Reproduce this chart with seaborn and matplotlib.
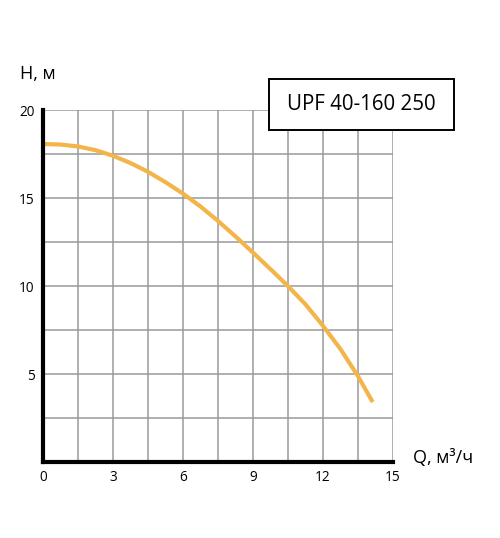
import matplotlib
matplotlib.use("Agg")
import matplotlib.pyplot as plt
from matplotlib.patches import Rectangle
import seaborn as sns
import pandas as pd

# pump curve
flow = [0, 0.75, 1.5, 2.25, 3, 3.75, 4.5, 5.25, 6, 6.75,
        7.5, 8.25, 9, 9.75, 10.5, 11.25, 12, 12.75, 13.5, 14.13]
head = [18.07, 18.04, 17.93, 17.72, 17.4, 16.99, 16.49, 15.9, 15.25, 14.52,
        13.7, 12.82, 11.9, 10.96, 10.0, 8.96, 7.74, 6.42, 4.88, 3.41]
x_ticks = [0, 3, 6, 9, 12, 15]
y_ticks = [5, 10, 15, 20]
model = "UPF 40-160 250"

sns.set_style("white")
plt.rcParams['font.family'] = ['Open Sans', 'DejaVu Sans']

df = pd.DataFrame({"Q": flow, "H": head})

fig = plt.figure(figsize=(5, 5.38), dpi=100)
ax = fig.add_axes([0.086, 0.141, 0.70, 0.6545])

sns.lineplot(data=df, x="Q", y="H", ax=ax, color="#F3B54A", linewidth=3.0,
             solid_capstyle="butt", solid_joinstyle="round", zorder=3)

ax.set_xlim(0, 15)
ax.set_ylim(0, 20)
ax.set_xticks([i * 1.5 for i in range(11)], minor=True)
ax.set_yticks([i * 2.5 for i in range(9)], minor=True)
ax.set_xticks(x_ticks)
ax.set_yticks(y_ticks)
ax.grid(which="both", color="#9a9a9a", linewidth=1.1)
ax.set_axisbelow(True)
ax.tick_params(which="both", length=0, labelsize=9.8, pad=6, labelcolor="black")
ax.set_xlabel("")
ax.set_ylabel("")

for side in ["top", "right"]:
    ax.spines[side].set_visible(False)
for side in ["left", "bottom"]:
    ax.spines[side].set_color("black")
    ax.spines[side].set_linewidth(3)
    ax.spines[side].set_capstyle("projecting")
    ax.spines[side].set_zorder(4)

fig.text(0.040, 0.862, "H, м", fontsize=13, ha="left", va="center", color="black")
fig.text(0.826, 0.148, "Q, м³/ч", fontsize=13, ha="left", va="center", color="black")

fig.patches.append(Rectangle((0.538, 0.7584), 0.37, 0.0948, transform=fig.transFigure,
                             facecolor="white", edgecolor="black", linewidth=1.4, zorder=5))
fig.text(0.723, 0.806, model, fontsize=14.8, ha="center", va="center", color="black", zorder=6)

fig.savefig("out.png", dpi=100)
